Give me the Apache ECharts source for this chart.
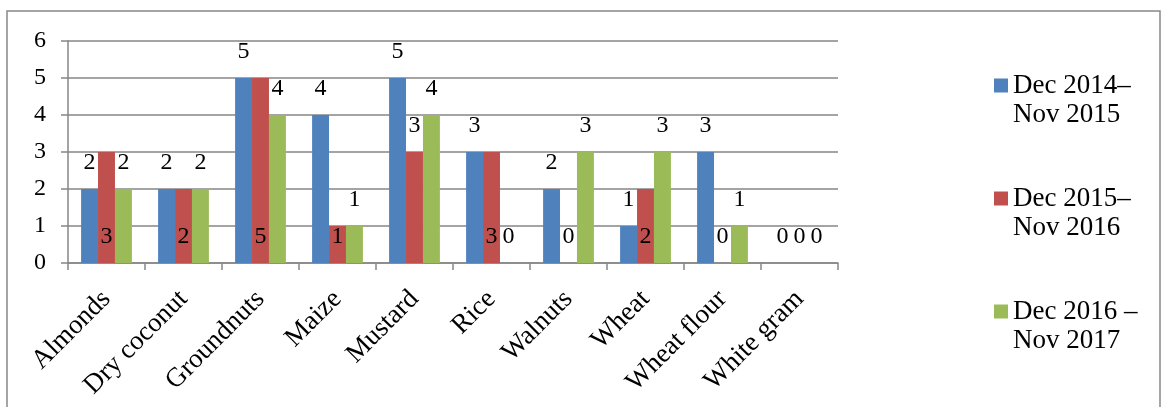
<!DOCTYPE html>
<html>
<head>
<meta charset="utf-8">
<script src="https://cdn.jsdelivr.net/npm/echarts@6/dist/echarts.min.js"></script>
<style>
html,body{margin:0;padding:0;background:#fff;}
#chart{width:1161px;height:407px;}
</style>
</head>
<body>
<div id="chart"></div>
<script>
const categories = ['Almonds','Dry coconut','Groundnuts','Maize','Mustard','Rice','Walnuts','Wheat','Wheat flour','White gram'];
const seriesNames = ['Dec 2014\u2013\nNov 2015','Dec 2015\u2013\nNov 2016','Dec 2016 \u2013\nNov 2017'];
const s2014 = [2,2,5,4,5,3,2,1,3,0];
const s2015 = [3,2,5,1,3,3,0,2,0,0];
const s2016 = [2,2,4,1,4,0,3,3,1,0];
const yTicks = [0,1,2,3,4,5,6];

const FONT = "'Liberation Serif','Times New Roman',serif";
const colors = ['#4F81BD','#C0504D','#9BBB59'];
const gridColor = '#868686';

const labelBase = {show:true, position:'top', distance:14, fontSize:24, color:'#000', fontFamily:FONT};

// red series labels sit at the bar base, except Mustard
const redTopIdx = [4];
const redData = s2015.map((v,i)=> redTopIdx.includes(i) ? {value:v, label:{position:'top'}} : {value:v});

const chart = echarts.init(document.getElementById('chart'), null, {renderer:'canvas'});
chart.setOption({
  animation:false,
  backgroundColor:'#fff',
  color:colors,
  graphic:[{
    type:'rect', silent:true, z:-10,
    shape:{x:7, y:11, width:1153, height:420},
    style:{fill:'none', stroke:'#888', lineWidth:1.5}
  }],
  grid:{left:68, top:41, right:323, bottom:144, containLabel:false},
  legend:{
    orient:'vertical', left:994, top:42, padding:0,
    itemWidth:14, itemHeight:14, itemGap:26,
    icon:'rect',
    data:seriesNames,
    formatter:function(name){ return '\n' + name; },
    textStyle:{fontSize:27, lineHeight:29, color:'#000', fontFamily:FONT}
  },
  xAxis:{
    type:'category', data:categories,
    axisLine:{lineStyle:{color:gridColor, width:1.5}},
    axisTick:{show:true, length:7, lineStyle:{color:gridColor, width:1.5}},
    axisLabel:{interval:0, rotate:45, fontSize:27, color:'#000', fontFamily:FONT, margin:32}
  },
  yAxis:{
    type:'value', min:yTicks[0], max:yTicks[yTicks.length-1], interval:1,
    axisLine:{show:true, lineStyle:{color:gridColor, width:1.5}},
    axisTick:{show:true, length:7, lineStyle:{color:gridColor, width:1.5}},
    splitLine:{show:true, lineStyle:{color:gridColor, width:1.5}},
    axisLabel:{fontSize:24, color:'#000', fontFamily:FONT, margin:22}
  },
  series:[
    {name:seriesNames[0], type:'bar', data:s2014, barGap:'0%', barCategoryGap:'34%', label:labelBase},
    {name:seriesNames[1], type:'bar', data:redData, barGap:'0%', barCategoryGap:'34%', label:Object.assign({}, labelBase, {position:'insideBottom'})},
    {name:seriesNames[2], type:'bar', data:s2016, barGap:'0%', barCategoryGap:'34%', label:labelBase}
  ]
});
</script>
</body>
</html>
